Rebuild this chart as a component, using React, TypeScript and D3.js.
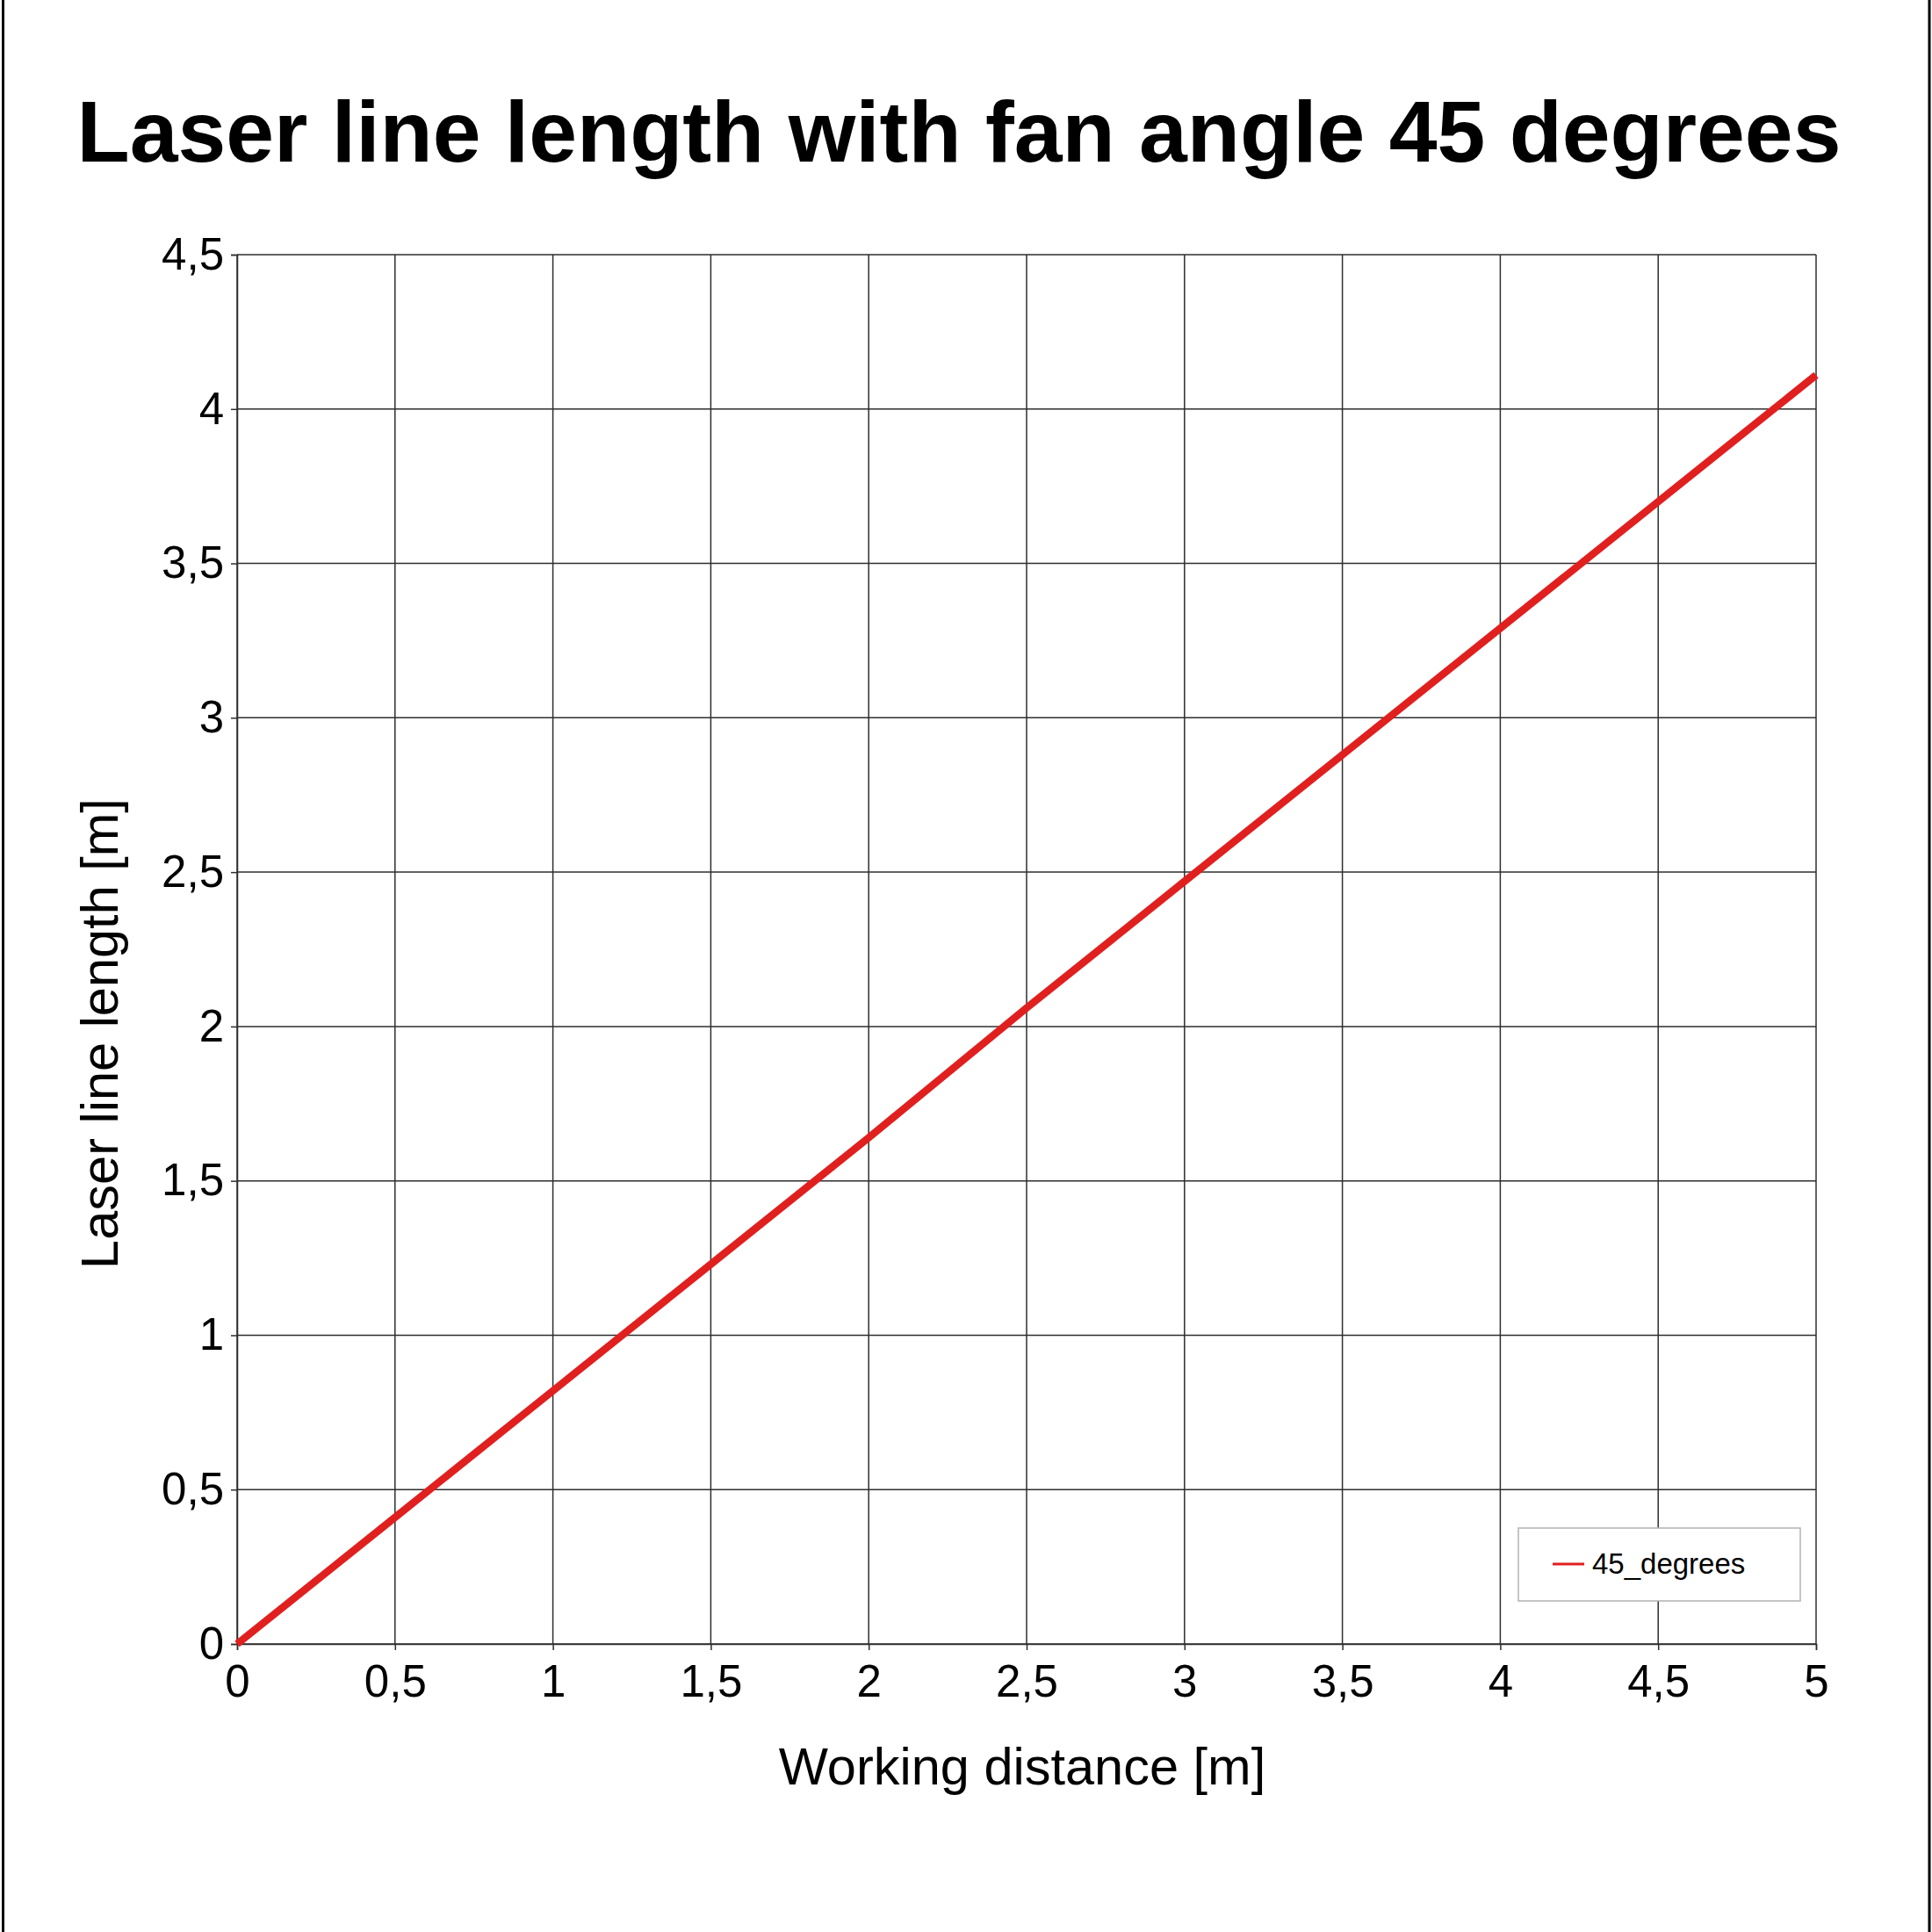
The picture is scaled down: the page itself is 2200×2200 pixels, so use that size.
import { useEffect, useRef } from 'react';
import * as d3 from 'd3';

const distances = [0, 0.5, 1, 1.5, 2, 2.5, 3, 3.5, 4, 4.5, 5];
const lineLengths = [0, 0.41, 0.82, 1.23, 1.64, 2.06, 2.47, 2.88, 3.29, 3.7, 4.11];
const xTicks = [0, 0.5, 1, 1.5, 2, 2.5, 3, 3.5, 4, 4.5, 5];
const yTicks = [0, 0.5, 1, 1.5, 2, 2.5, 3, 3.5, 4, 4.5];
const seriesName = '45_degrees';

const W = 2200;
const H = 2200;
const FONT = '"Liberation Sans", Arial, sans-serif';
const RED = '#e0201f';
const GRID = '#2e2e2e';

export default function App() {
  const svgRef = useRef<SVGSVGElement>(null);

  useEffect(() => {
    if (!svgRef.current) return;
    const svg = d3.select(svgRef.current);
    svg.selectAll('*').remove();

    const margin = { top: 290, right: 132, bottom: 328, left: 270 };
    const width = W - margin.left - margin.right;
    const height = H - margin.top - margin.bottom;

    svg.append('rect').attr('width', W).attr('height', H).attr('fill', '#fff');

    // page frame (left/right edges only)
    svg.append('line').attr('x1', 3.5).attr('x2', 3.5).attr('y1', 0).attr('y2', H)
      .attr('stroke', '#000').attr('stroke-width', 3);
    svg.append('line').attr('x1', W - 3).attr('x2', W - 3).attr('y1', 0).attr('y2', H)
      .attr('stroke', '#000').attr('stroke-width', 3);

    svg.append('text')
      .attr('x', 1092)
      .attr('y', 184)
      .attr('text-anchor', 'middle')
      .attr('font-family', FONT)
      .attr('font-weight', 'bold')
      .attr('font-size', 98.5)
      .attr('fill', '#000')
      .text('Laser line length with fan angle 45 degrees');

    const g = svg.append('g').attr('transform', `translate(${margin.left},${margin.top})`);

    const x = d3.scaleLinear().domain([0, 5]).range([0, width]);
    const y = d3.scaleLinear().domain([0, 4.5]).range([height, 0]);
    const fmt = (d: number) => String(d).replace('.', ',');

    // grid
    g.append('g')
      .selectAll('line')
      .data(xTicks)
      .join('line')
      .attr('x1', (d) => x(d)).attr('x2', (d) => x(d))
      .attr('y1', 0).attr('y2', height)
      .attr('stroke', GRID)
      .attr('stroke-width', 1.5);

    g.append('g')
      .selectAll('line')
      .data(yTicks)
      .join('line')
      .attr('x1', 0).attr('x2', width)
      .attr('y1', (d) => y(d)).attr('y2', (d) => y(d))
      .attr('stroke', GRID)
      .attr('stroke-width', 1.5);

    // axes
    const xAxis = g.append('g')
      .attr('transform', `translate(0,${height})`)
      .call(d3.axisBottom(x).tickValues(xTicks).tickSize(7).tickPadding(17).tickFormat((d) => fmt(d as number)));
    const yAxis = g.append('g')
      .call(d3.axisLeft(y).tickValues(yTicks).tickSize(7).tickPadding(8).tickFormat((d) => fmt(d as number)));

    [xAxis, yAxis].forEach((ax) => {
      ax.select('.domain').attr('stroke', GRID).attr('stroke-width', 1.5);
      ax.selectAll('.tick line').attr('stroke', GRID).attr('stroke-width', 1.5);
      ax.selectAll('.tick text')
        .attr('fill', '#000')
        .attr('font-family', FONT)
        .attr('font-size', 51);
    });

    // data line
    const pts = distances.map((d, i) => ({ d, v: lineLengths[i] }));
    const line = d3.line<typeof pts[0]>()
      .x((p) => x(p.d))
      .y((p) => y(p.v));

    g.append('path')
      .datum(pts)
      .attr('fill', 'none')
      .attr('stroke', RED)
      .attr('stroke-width', 8.5)
      .attr('d', line);

    // axis titles
    svg.append('text')
      .attr('x', 1164)
      .attr('y', 2032)
      .attr('text-anchor', 'middle')
      .attr('font-family', FONT)
      .attr('font-size', 59.5)
      .attr('fill', '#000')
      .text('Working distance [m]');

    svg.append('text')
      .attr('transform', 'translate(134,1177) rotate(-90)')
      .attr('text-anchor', 'middle')
      .attr('font-family', FONT)
      .attr('font-size', 59.5)
      .attr('fill', '#000')
      .text('Laser line length [m]');

    // legend
    const legend = svg.append('g').attr('transform', 'translate(1729,1740)');
    legend.append('rect')
      .attr('x', 0).attr('y', 0)
      .attr('width', 321).attr('height', 83)
      .attr('fill', '#fff')
      .attr('stroke', '#b3b3b3')
      .attr('stroke-width', 1.5);
    legend.append('line')
      .attr('x1', 39).attr('x2', 75)
      .attr('y1', 41).attr('y2', 41)
      .attr('stroke', RED)
      .attr('stroke-width', 3);
    legend.append('text')
      .attr('x', 84)
      .attr('y', 52)
      .attr('font-family', FONT)
      .attr('font-size', 33)
      .attr('fill', '#000')
      .text(seriesName);
  }, []);

  return (
    <div style={{ position: 'absolute', left: 0, top: 0 }}>
      <svg ref={svgRef} width={W} height={H} style={{ display: 'block' }} />
    </div>
  );
}
